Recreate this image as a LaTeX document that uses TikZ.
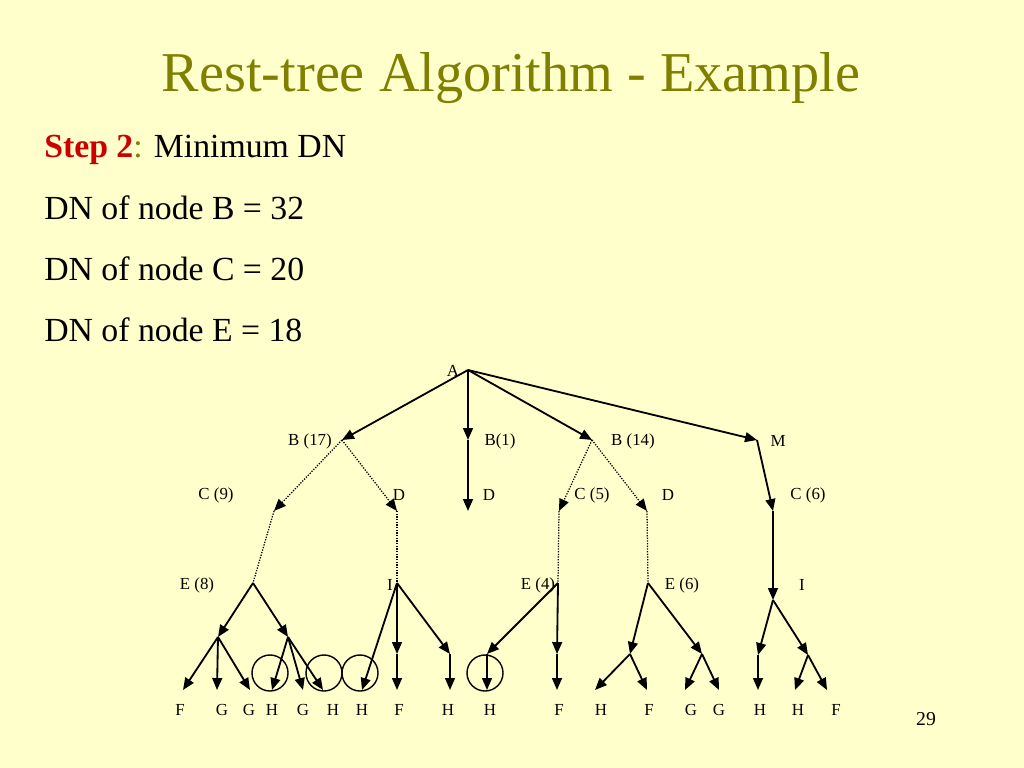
\documentclass[tikz,border=0pt]{standalone}
\usepackage{fontspec}
\setmainfont{Liberation Serif}
\usetikzlibrary{arrows.meta,positioning}
\definecolor{slbg}{HTML}{FFFFCC}
\definecolor{slolive}{HTML}{808000}
\definecolor{slred}{HTML}{CC0000}
\tikzset{
  lab/.style={font=\fontsize{12}{14}\selectfont,inner sep=0pt},
  leaf/.style={lab,anchor=base},
  txt/.style={font=\fontsize{24}{28}\selectfont,anchor=base west,inner sep=0pt},
  arr/.style={-{Triangle[length=8.5pt,width=7pt]},line width=1.3pt},
  dline/.style={densely dotted,line width=0.9pt},
  darr/.style={dline,-{Triangle[length=8.5pt,width=7pt]}},
  ring/.style={line width=1pt},
}

\begin{document}
\begin{tikzpicture}[x=0.025cm,y=-0.025cm]
\fill[slbg] (0,0) rectangle (1024,768);
\useasboundingbox (0,0) rectangle (1024,768);
% title and text
\node[font=\fontsize{40}{46}\selectfont,text=slolive,anchor=base,inner sep=0pt] (title) at (511,92) {Rest-tree Algorithm - Example};
\node[txt] (step) at (44,157) {\textcolor{slred}{\textbf{Step 2}}\textcolor{slolive}{:} Minimum DN};
\node[txt] (dnb) at (44,219) {DN of node B = 32};
\node[txt] (dnc) at (44,280) {DN of node C = 20};
\node[txt] (dne) at (44,341) {DN of node E = 18};
\node[font=\fontsize{14}{16}\selectfont,anchor=base,inner sep=0pt] (pg) at (926,725) {29};
% tree points
\coordinate (nA) at (468,370);
\coordinate (nB17) at (342,440);
\coordinate (nB1) at (468,440);
\coordinate (nB14) at (592,440);
\coordinate (nM) at (757,440);
\coordinate (nC9) at (274,511);
\coordinate (nD1) at (397,511);
\coordinate (nD2) at (468,511);
\coordinate (nC5) at (559,511);
\coordinate (nD3) at (647,511);
\coordinate (nC6) at (773,511);
\coordinate (nE8) at (253,583);
\coordinate (nI1) at (397,583);
\coordinate (nE4) at (558,583);
\coordinate (nE6) at (648,583);
\coordinate (nI2) at (773,600);
\coordinate (m1) at (218,637);
\coordinate (m2) at (288,637);
\coordinate (m3) at (397,654);
\coordinate (m4) at (450,654);
\coordinate (m5) at (487,654);
\coordinate (m6) at (557,654);
\coordinate (m7) at (630,654);
\coordinate (m8) at (702,654);
\coordinate (m9) at (758,655);
\coordinate (m10) at (808,655);
\coordinate (l1) at (183,690);
\coordinate (l2) at (217,690);
\coordinate (l3) at (250,690);
\coordinate (l4) at (272,690);
\coordinate (l5) at (303,690);
\coordinate (l6) at (323,690);
\coordinate (l7) at (362,690);
\coordinate (l8) at (397,690);
\coordinate (l9) at (450,690);
\coordinate (l10) at (487,690);
\coordinate (l11) at (557,690);
\coordinate (l12) at (595,690);
\coordinate (l13) at (647,690);
\coordinate (l14) at (685,690);
\coordinate (l15) at (719,690);
\coordinate (l16) at (758,690);
\coordinate (l17) at (795,690);
\coordinate (l18) at (827,690);
% labels
\node[lab] (tA) at (453,371) {A};
\node[lab] (tB17) at (310,441) {B (17)};
\node[lab] (tB1) at (500,441) {B(1)};
\node[lab] (tB14) at (633,441) {B (14)};
\node[lab] (tM) at (778,441) {M};
\node[lab] (tC9) at (216,495) {C (9)};
\node[lab] (tD1) at (399,495) {D};
\node[lab] (tD2) at (489,495) {D};
\node[lab] (tC5) at (592,495) {C (5)};
\node[lab] (tD3) at (668,495) {D};
\node[lab] (tC6) at (808,495) {C (6)};
\node[lab] (tE8) at (197,585) {E (8)};
\node[lab] (tI1) at (390,585) {I};
\node[lab] (tE4) at (538,585) {E (4)};
\node[lab] (tE6) at (682,585) {E (6)};
\node[lab] (tI2) at (802,585) {I};
\node[leaf] (f1) at (180,715) {F};
\node[leaf] (f2) at (222,715) {G};
\node[leaf] (f3) at (249,715) {G};
\node[leaf] (f4) at (272,715) {H};
\node[leaf] (f5) at (303,715) {G};
\node[leaf] (f6) at (333,715) {H};
\node[leaf] (f7) at (362,715) {H};
\node[leaf] (f8) at (399,715) {F};
\node[leaf] (f9) at (448,715) {H};
\node[leaf] (f10) at (490,715) {H};
\node[leaf] (f11) at (559,715) {F};
\node[leaf] (f12) at (601,715) {H};
\node[leaf] (f13) at (649,715) {F};
\node[leaf] (f14) at (691,715) {G};
\node[leaf] (f15) at (719,715) {G};
\node[leaf] (f16) at (760,715) {H};
\node[leaf] (f17) at (798,715) {H};
\node[leaf] (f18) at (836,715) {F};
% circled leaves
\coordinate (r1) at (270,673);
\coordinate (r2) at (324,673);
\coordinate (r3) at (360,673);
\coordinate (r4) at (485,673);
\draw[ring] (r1) circle[radius=0.45cm];
\draw[ring] (r2) circle[radius=0.45cm];
\draw[ring] (r3) circle[radius=0.45cm];
\draw[ring] (r4) circle[radius=0.45cm];
% edges
\draw[arr] (nA)--(nB17); \draw[arr] (nA)--(nB1); \draw[arr] (nA)--(nB14); \draw[arr] (nA)--(nM);
\draw[arr] (nB1)--(nD2); \draw[arr] (nM)--(nC6); \draw[arr] (nC6)--(nI2);
\draw[darr] (nB17)--(nC9); \draw[darr] (nB17)--(nD1); \draw[darr] (nB14)--(nC5); \draw[darr] (nB14)--(nD3);
\draw[dline] (nC9)--(nE8); \draw[dline] (nD1)--(nI1); \draw[dline] (nC5)--(nE4); \draw[dline] (nD3)--(nE6);
\draw[arr] (nE8)--(m1); \draw[arr] (nE8)--(m2);
\draw[arr] (m1)--(l1); \draw[arr] (m1)--(l2); \draw[arr] (m1)--(l3);
\draw[arr] (m2)--(l4); \draw[arr] (m2)--(l5); \draw[arr] (m2)--(l6);
\draw[arr] (nI1)--(l7); \draw[arr] (nI1)--(m3); \draw[arr] (m3)--(l8); \draw[arr] (nI1)--(m4); \draw[arr] (m4)--(l9);
\draw[arr] (nE4)--(m5); \draw[arr] (m5)--(l10); \draw[arr] (nE4)--(m6); \draw[arr] (m6)--(l11);
\draw[arr] (nE6)--(m7); \draw[arr] (nE6)--(m8);
\draw[arr] (m7)--(l12); \draw[arr] (m7)--(l13); \draw[arr] (m8)--(l14); \draw[arr] (m8)--(l15);
\draw[arr] (nI2)--(m9); \draw[arr] (nI2)--(m10);
\draw[arr] (m9)--(l16); \draw[arr] (m10)--(l17); \draw[arr] (m10)--(l18);
\end{tikzpicture}
\end{document}
